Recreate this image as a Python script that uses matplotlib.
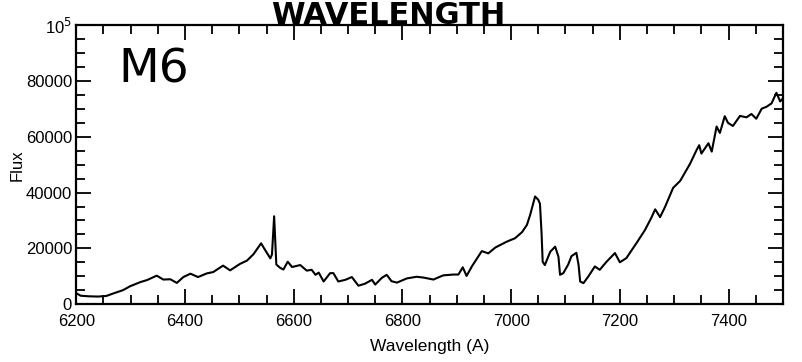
import matplotlib
matplotlib.use("Agg")
import matplotlib.pyplot as plt
import matplotlib.ticker as mticker

# spectrum (wavelength in A, flux)
wavelength = [
    6200, 6208, 6222, 6240, 6255, 6268, 6286, 6299, 6318, 6330, 6348, 6360,
    6373, 6385, 6397, 6410, 6424, 6440, 6452, 6470, 6483, 6501, 6514, 6526,
    6540, 6548, 6557, 6560, 6564, 6568, 6575, 6581, 6589, 6597, 6612, 6624,
    6633, 6640, 6646, 6655, 6667, 6673, 6682, 6695, 6707, 6719, 6731, 6744,
    6750, 6762, 6771, 6780, 6790, 6808, 6826, 6839, 6857, 6875, 6894, 6903,
    6911, 6918, 6928, 6946, 6958, 6971, 6980, 6992, 7007, 7020, 7029, 7035,
    7044, 7050, 7053, 7056, 7058, 7062, 7072, 7081, 7087, 7090, 7096, 7105,
    7111, 7120, 7124, 7127, 7133, 7142, 7154, 7163, 7176, 7191, 7200, 7212,
    7231, 7246, 7258, 7265, 7274, 7283, 7298, 7311, 7329, 7341, 7346, 7350,
    7363, 7369, 7378, 7384, 7393, 7399, 7408, 7421, 7433, 7442, 7451, 7461,
    7470, 7479, 7488, 7495, 7500,
]
flux = [
    3900, 3000, 2800, 2700, 2900, 3800, 5000, 6400, 7900, 8600, 10200, 8800,
    8900, 7600, 9700, 10900, 9700, 11000, 11500, 13800, 12100, 14400, 15600, 17900,
    21800, 19200, 16400, 17800, 31500, 14200, 13000, 12400, 15200, 13300, 14000, 12000,
    12300, 10500, 11300, 8100, 11100, 11100, 8100, 8700, 9700, 6600, 7300, 8700,
    7000, 9400, 10500, 8200, 7700, 9200, 9800, 9500, 8800, 10300, 10600, 10600,
    13200, 10100, 13600, 19000, 18200, 20300, 21200, 22400, 23600, 25800, 28400, 32000,
    38600, 37400, 36000, 25300, 15200, 14000, 18800, 20600, 17000, 10500, 11100, 14200,
    17200, 18400, 14100, 8100, 7500, 9900, 13500, 12300, 15300, 18300, 15000, 16500,
    22000, 26500, 31000, 34000, 31200, 34800, 41700, 44200, 50300, 55200, 57000, 54000,
    57700, 54700, 63700, 61400, 67400, 65000, 63900, 67500, 67000, 68200, 66500, 70100,
    70800, 72000, 75800, 72700, 73800,
]

y_ticks = [0, 20000, 40000, 60000, 80000, 100000]
y_tick_labels = ["0", "20000", "40000", "60000", "80000", r"10$^5$"]
x_ticks = [6200, 6400, 6600, 6800, 7000, 7200, 7400]

plt.rcParams["font.family"] = ["Liberation Sans", "DejaVu Sans"]

fig = plt.figure(figsize=(8.03, 3.62), dpi=100)
ax = fig.add_axes([0.095, 0.16, 0.88, 0.77])

ax.plot(wavelength, flux, color="black", lw=1.5)

ax.set_xlim(6200, 7500)
ax.set_ylim(0, 100000)
ax.set_xticks(x_ticks)
ax.set_yticks(y_ticks)
ax.set_yticklabels(y_tick_labels)
ax.xaxis.set_minor_locator(mticker.MultipleLocator(50))
ax.yaxis.set_minor_locator(mticker.MultipleLocator(5000))
ax.tick_params(which="both", direction="in", top=True, right=True,
               colors="black", labelsize=12, width=1.3)
ax.tick_params(which="major", length=11)
ax.tick_params(which="minor", length=6.5)
ax.tick_params(axis="x", pad=7)
ax.tick_params(axis="y", pad=3)
for s in ax.spines.values():
    s.set_linewidth(1.6)

ax.set_xlabel("Wavelength (A)", fontsize=12.5, labelpad=7)
ax.set_ylabel("Flux", fontsize=12, labelpad=1)

# handwritten notes on the scan
ax.text(0.06, 0.84, "M6", transform=ax.transAxes, fontsize=34,
        family="DejaVu Sans", va="center", ha="left")
fig.text(0.483, 0.997, "WAVELENGTH", fontsize=22, fontweight="heavy",
         family="DejaVu Sans", ha="center", va="top")

fig.savefig("out.png", dpi=100)
